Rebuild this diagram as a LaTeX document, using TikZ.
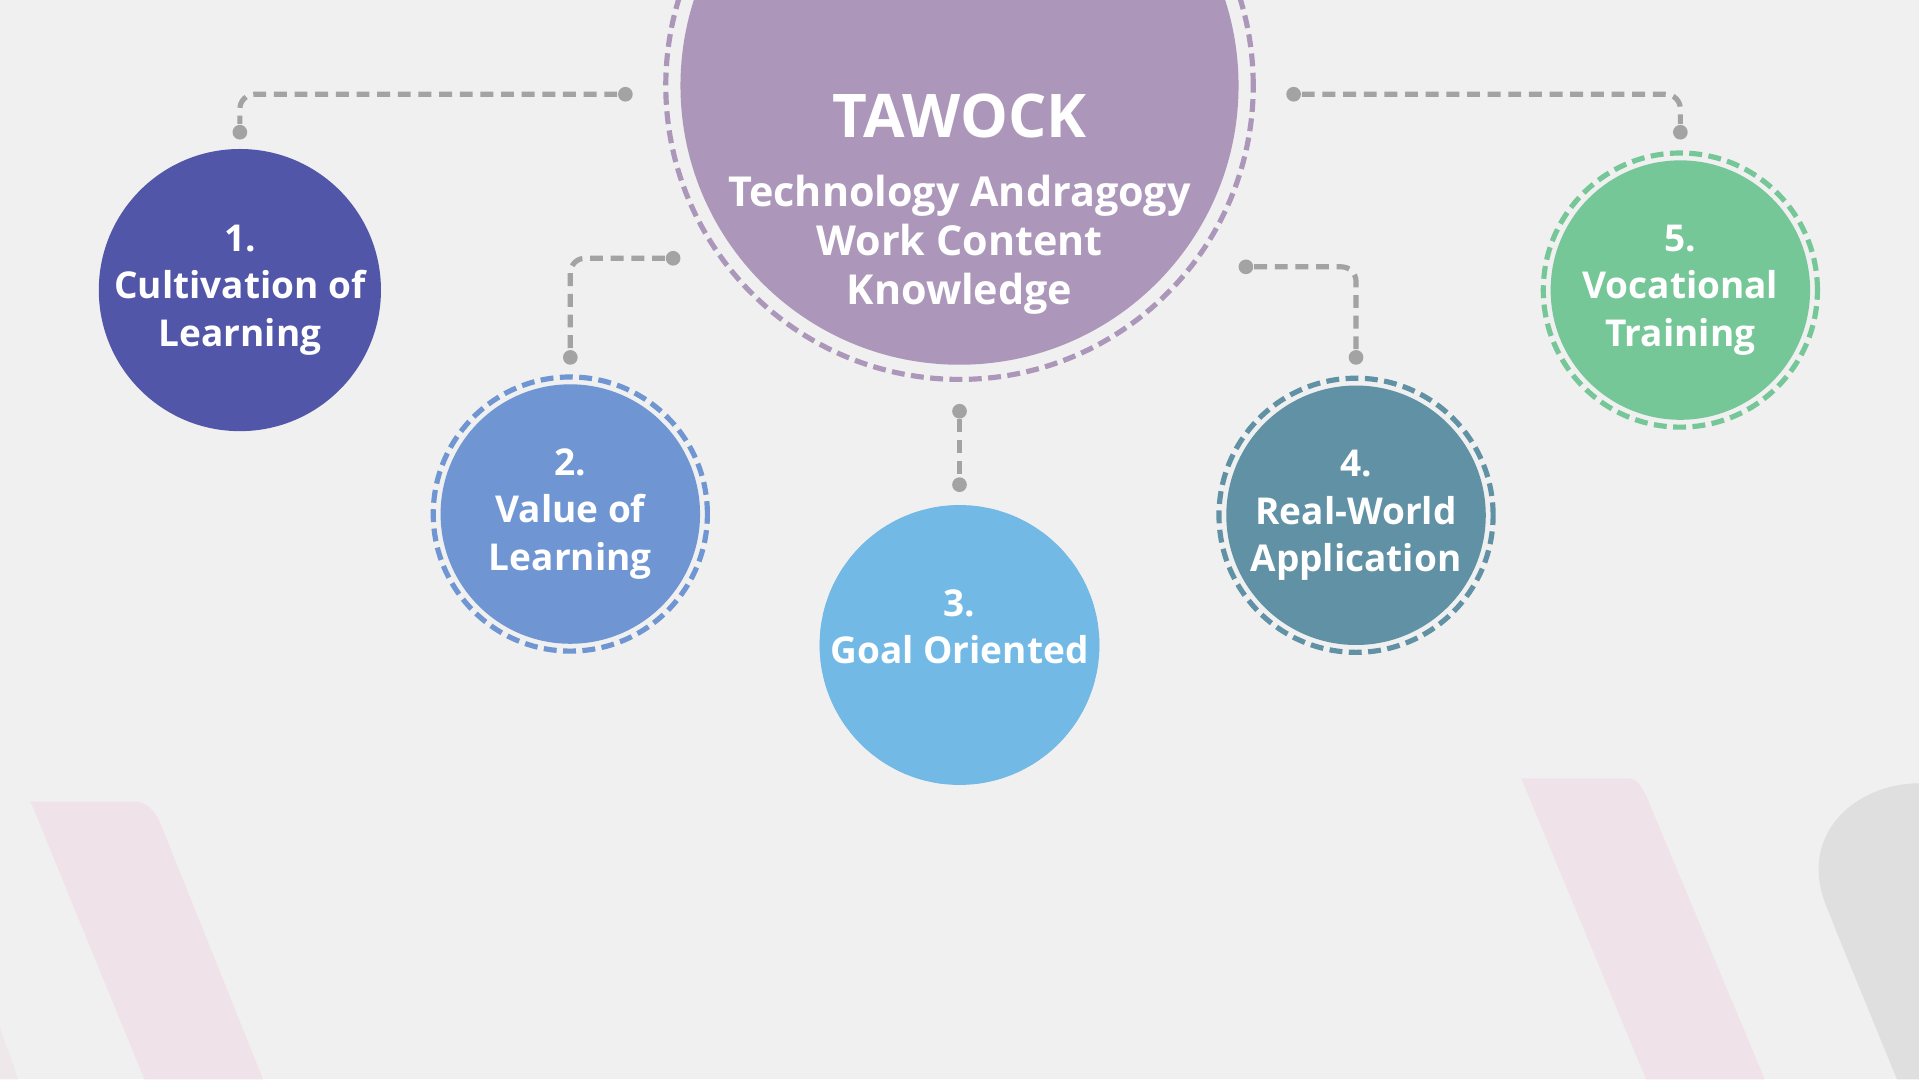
\documentclass[tikz,border=0pt]{standalone}
\usepackage{fontspec}
\setmainfont{Open Sans}
\usetikzlibrary{positioning}
\definecolor{bgc}{HTML}{EFF0EF}
\definecolor{hubc}{HTML}{AC97BA}
\definecolor{onec}{HTML}{5256A8}
\definecolor{twoc}{HTML}{6F95D2}
\definecolor{threec}{HTML}{72B9E6}
\definecolor{fourc}{HTML}{6191A5}
\definecolor{fivec}{HTML}{76C798}
\definecolor{linkc}{HTML}{A3A3A3}
\definecolor{pinkc}{HTML}{EFE3E9}
\tikzset{
  pillar/.style={circle,fill=#1,minimum size=2.12cm,inner sep=0pt,align=center,
    text=white,font=\bfseries\fontsize{8.6}{11}\selectfont},
  ring/.style={draw=#1,dashed,line width=1.2pt,dash pattern=on 3pt off 1.5pt},
  dot/.style={circle,fill=linkc,inner sep=0pt,minimum size=0.12cm},
  link/.style={draw=linkc,line width=1.2pt,dash pattern=on 3pt off 1.8pt,rounded corners=0.12cm}
}
\begin{document}
\begin{tikzpicture}
  \useasboundingbox (0,0) rectangle (15.68,-8.82);
  \fill[bgc] (0,0) rectangle (15.68,-8.82);
  % background ribbons
  \fill[pinkc] (0.25,-6.55) -- (1.1,-6.55) to[out=0,in=120] (1.3,-6.7) -- (2.15,-8.82) -- (1.18,-8.82) -- cycle;
  \fill[pinkc] (12.43,-6.36) -- (13.3,-6.36) to[out=0,in=120] (13.45,-6.5) -- (14.42,-8.82) -- (13.45,-8.82) -- cycle;
  \fill[pinkc!60!bgc] (0,-8.4) -- (0.15,-8.82) -- (0,-8.82) -- cycle;
  \fill[gray!15!bgc] (15.68,-6.4) to[out=180,in=90] (14.86,-7.1) to[out=-90,in=110] (15.0,-7.6) -- (15.5,-8.82) -- (15.68,-8.82) -- cycle;
  % hub
  \begin{scope}
    \clip (0,0) rectangle (15.68,-8.82);
    \draw[ring=hubc] (7.84,-0.7) circle (2.4);
    \fill[hubc] (7.84,-0.7) circle (2.28);
  \end{scope}
  \node[text=white,font=\bfseries\fontsize{14}{16}\selectfont] (title) at (7.84,-0.95) {TAWOCK};
  \node[text=white,font=\bfseries\fontsize{9.6}{11.4}\selectfont,align=center,below=0.05cm of title] (sub)
    {Technology Andragogy\\Work Content\\Knowledge};
  % pillars
  \node[pillar=onec]   (p1) at (1.96,-2.37)  {1.\\Cultivation of\\Learning};
  \node[pillar=twoc]   (p2) at (4.66,-4.2)   {2.\\Value of\\Learning};
  \node[pillar=threec] (p3) at (7.84,-5.27)  {3.\\Goal Oriented\\[-0.3em]};
  \node[pillar=fourc]  (p4) at (11.08,-4.21) {4.\\Real-World\\Application};
  \node[pillar=fivec]  (p5) at (13.73,-2.37) {5.\\Vocational\\Training};
  \draw[ring=onec]   (p1) circle (1.12);
  \draw[ring=twoc]   (p2) circle (1.12);
  \draw[ring=threec] (p3) circle (1.12);
  \draw[ring=fourc]  (p4) circle (1.12);
  \draw[ring=fivec]  (p5) circle (1.12);
  % connectors
  \node[dot] (a1) at (5.11,-0.77) {};  \node[dot] (b1) at (1.96,-1.08) {};
  \node[dot] (a2) at (5.5,-2.11) {};   \node[dot] (b2) at (4.66,-2.92) {};
  \node[dot] (a3) at (7.84,-3.36) {};  \node[dot] (b3) at (7.84,-3.96) {};
  \node[dot] (a4) at (10.18,-2.18) {}; \node[dot] (b4) at (11.08,-2.92) {};
  \node[dot] (a5) at (10.57,-0.77) {}; \node[dot] (b5) at (13.73,-1.08) {};
  \draw[link] (a1) -| (b1);
  \draw[link] (a2) -| (b2);
  \draw[link] (a3) -- (b3);
  \draw[link] (a4) -| (b4);
  \draw[link] (a5) -| (b5);
\end{tikzpicture}
\end{document}
